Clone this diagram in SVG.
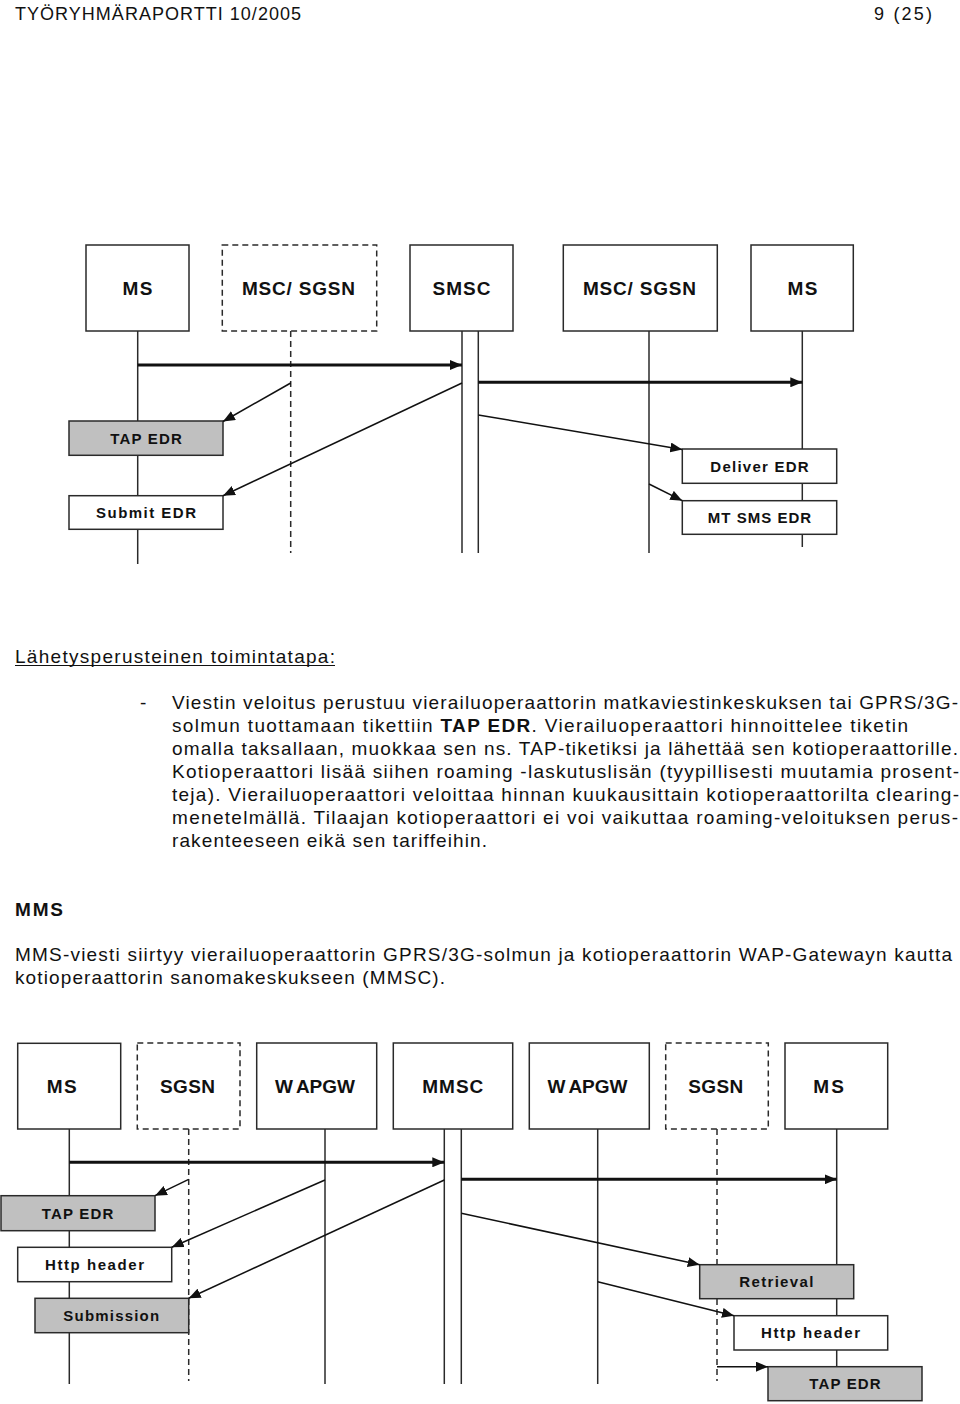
<svg xmlns="http://www.w3.org/2000/svg" width="960" height="1404" viewBox="0 0 960 1404">
<defs>
<style>
.page{font-family:"Liberation Sans",Arial,sans-serif;fill:#111}
.body{font-family:"Liberation Sans",Arial,sans-serif;font-size:19px;fill:#111}
.hd{font-family:"Liberation Sans",Arial,sans-serif;font-size:19px;font-weight:bold;fill:#111;text-anchor:middle}
.lbl{font-family:"Liberation Sans",Arial,sans-serif;font-size:15px;font-weight:bold;fill:#111;text-anchor:middle}
.box{fill:#fff;stroke:#2a2a2a;stroke-width:1.5}
.dbox{fill:#fff;stroke:#2a2a2a;stroke-width:1.5;stroke-dasharray:6 4}
.gbox{fill:#c0c0c0;stroke:#2a2a2a;stroke-width:1.5}
.wbox{fill:#fff;stroke:#2a2a2a;stroke-width:1.5}
.life{stroke:#2a2a2a;stroke-width:1.5;fill:none}
.dlife{stroke:#2a2a2a;stroke-width:1.5;fill:none;stroke-dasharray:6 4}
.thick{stroke:#111;stroke-width:3;fill:none;marker-end:url(#ah)}
.thin{stroke:#111;stroke-width:1.5;fill:none;marker-end:url(#ah)}
</style>
<marker id="ah" markerUnits="userSpaceOnUse" markerWidth="12" markerHeight="10" refX="12" refY="5" orient="auto">
<path d="M0,0 L12,5 L0,10 z" fill="#111"/>
</marker>
</defs>
<rect width="960" height="1404" fill="#fff"/>

<g id="page-header">
<text class="page" x="15" y="20" font-size="18" textLength="286" lengthAdjust="spacing">TYÖRYHMÄRAPORTTI 10/2005</text>
<text class="page" x="874" y="20" font-size="18" textLength="58" lengthAdjust="spacing">9 (25)</text>
</g>

<g id="top-ms1">
<line class="life" x1="137.7" y1="331" x2="137.7" y2="564"/>
<rect class="box" x="86" y="245" width="103" height="86"/>
<text class="hd" x="137.5" y="295" textLength="30" lengthAdjust="spacing">MS</text>
</g>
<g id="top-msc1">
<line class="dlife" x1="290.7" y1="331" x2="290.7" y2="553"/>
<rect class="dbox" x="222.3" y="245" width="154.4" height="86"/>
<text class="hd" x="298.5" y="295" textLength="113" lengthAdjust="spacing">MSC/ SGSN</text>
</g>
<g id="top-smsc">
<line class="life" x1="462" y1="331" x2="462" y2="553"/>
<line class="life" x1="478.3" y1="331" x2="478.3" y2="553"/>
<rect class="box" x="410" y="245" width="103" height="86"/>
<text class="hd" x="461.5" y="295" textLength="58" lengthAdjust="spacing">SMSC</text>
</g>
<g id="top-msc2">
<line class="life" x1="649" y1="331" x2="649" y2="553"/>
<rect class="box" x="563.3" y="245" width="154" height="86"/>
<text class="hd" x="639.5" y="295" textLength="113" lengthAdjust="spacing">MSC/ SGSN</text>
</g>
<g id="top-ms2">
<line class="life" x1="802.3" y1="331" x2="802.3" y2="547"/>
<rect class="box" x="751" y="245" width="102.3" height="86"/>
<text class="hd" x="802.5" y="295" textLength="30" lengthAdjust="spacing">MS</text>
</g>

<g id="top-tap-edr">
<rect class="gbox" x="69" y="421" width="154" height="34.3"/>
<text class="lbl" x="146" y="443.6" textLength="71.7" lengthAdjust="spacing">TAP EDR</text>
</g>
<g id="top-submit-edr">
<rect class="wbox" x="69" y="495.7" width="154" height="33.6"/>
<text class="lbl" x="146" y="517.9" textLength="100" lengthAdjust="spacing">Submit EDR</text>
</g>
<g id="top-deliver-edr">
<rect class="wbox" x="682.3" y="449" width="154.4" height="34.3"/>
<text class="lbl" x="759.5" y="471.6" textLength="98.3" lengthAdjust="spacing">Deliver EDR</text>
</g>
<g id="top-mtsms-edr">
<rect class="wbox" x="682.3" y="500.7" width="154.4" height="33.6"/>
<text class="lbl" x="759.5" y="522.9" textLength="103.3" lengthAdjust="spacing">MT SMS EDR</text>
</g>

<g id="top-connectors">
<path class="thick" d="M137.7,365 L462,365"/>
<path class="thick" d="M478.3,382.3 L802.3,382.3"/>
<path class="thin" d="M290.7,383 L223,421.5"/>
<path class="thin" d="M462,383 L223,495.7"/>
<path class="thin" d="M478.3,415 L682.3,449.5"/>
<path class="thin" d="M649,484 L682.3,500.7"/>
</g>

<g id="text-sms">
<text class="body" x="15" y="663" textLength="320" lengthAdjust="spacing">Lähetysperusteinen toimintatapa:</text>
<line x1="15" y1="665.5" x2="335" y2="665.5" stroke="#111" stroke-width="1.2"/>
<text class="body" x="140" y="709">-</text>
<text class="body" x="172" y="709" textLength="786" lengthAdjust="spacing">Viestin veloitus perustuu vierailuoperaattorin matkaviestinkeskuksen tai GPRS/3G-</text>
<text class="body" x="172" y="732" textLength="736" lengthAdjust="spacing">solmun tuottamaan tikettiin <tspan font-weight="bold">TAP EDR</tspan>. Vierailuoperaattori hinnoittelee tiketin</text>
<text class="body" x="172" y="755" textLength="786" lengthAdjust="spacing">omalla taksallaan, muokkaa sen ns. TAP-tiketiksi ja lähettää sen kotioperaattorille.</text>
<text class="body" x="172" y="778" textLength="787" lengthAdjust="spacing">Kotioperaattori lisää siihen roaming -laskutuslisän (tyypillisesti muutamia prosent-</text>
<text class="body" x="172" y="801" textLength="787" lengthAdjust="spacing">teja). Vierailuoperaattori veloittaa hinnan kuukausittain kotioperaattorilta clearing-</text>
<text class="body" x="172" y="824" textLength="786" lengthAdjust="spacing">menetelmällä. Tilaajan kotioperaattori ei voi vaikuttaa roaming-veloituksen perus-</text>
<text class="body" x="172" y="847" textLength="315" lengthAdjust="spacing">rakenteeseen eikä sen tariffeihin.</text>
</g>
<g id="text-mms">
<text class="body" x="15" y="916" font-weight="bold" textLength="48" lengthAdjust="spacing">MMS</text>
<text class="body" x="15" y="961" textLength="937" lengthAdjust="spacing">MMS-viesti siirtyy vierailuoperaattorin GPRS/3G-solmun ja kotioperaattorin WAP-Gatewayn kautta</text>
<text class="body" x="15" y="984" textLength="430" lengthAdjust="spacing">kotioperaattorin sanomakeskukseen (MMSC).</text>
</g>

<g id="bot-ms1">
<line class="life" x1="69.3" y1="1129" x2="69.3" y2="1384"/>
<rect class="box" x="17.7" y="1043.3" width="103" height="85.7"/>
<text class="hd" x="61.7" y="1092.7" textLength="30" lengthAdjust="spacing">MS</text>
</g>
<g id="bot-sgsn1">
<line class="dlife" x1="188.7" y1="1129" x2="188.7" y2="1381"/>
<rect class="dbox" x="137.3" y="1043" width="102.7" height="86"/>
<text class="hd" x="187.5" y="1092.7" textLength="55" lengthAdjust="spacing">SGSN</text>
</g>
<g id="bot-wapgw1">
<line class="life" x1="325" y1="1129" x2="325" y2="1384"/>
<rect class="box" x="256.7" y="1043" width="120" height="86"/>
<text class="hd" x="315" y="1092.7">W<tspan dx="4">APGW</tspan></text>
</g>
<g id="bot-mmsc">
<line class="life" x1="444.3" y1="1129" x2="444.3" y2="1384"/>
<line class="life" x1="461.3" y1="1129" x2="461.3" y2="1384"/>
<rect class="box" x="393.3" y="1043" width="119.4" height="86"/>
<text class="hd" x="452.8" y="1092.7" textLength="61" lengthAdjust="spacing">MMSC</text>
</g>
<g id="bot-wapgw2">
<line class="life" x1="597.7" y1="1129" x2="597.7" y2="1384"/>
<rect class="box" x="529.3" y="1043" width="120" height="86"/>
<text class="hd" x="587.5" y="1092.7">W<tspan dx="4">APGW</tspan></text>
</g>
<g id="bot-sgsn2">
<line class="dlife" x1="717" y1="1129" x2="717" y2="1381"/>
<rect class="dbox" x="665.7" y="1043" width="102.6" height="86"/>
<text class="hd" x="715.8" y="1092.7" textLength="55" lengthAdjust="spacing">SGSN</text>
</g>
<g id="bot-ms2">
<line class="life" x1="836.7" y1="1129" x2="836.7" y2="1367"/>
<rect class="box" x="785" y="1043" width="102.7" height="86"/>
<text class="hd" x="828.7" y="1092.7" textLength="30.7" lengthAdjust="spacing">MS</text>
</g>

<g id="bot-tap-edr1">
<rect class="gbox" x="1" y="1195.7" width="154" height="35"/>
<text class="lbl" x="77.5" y="1218.7" textLength="71.6" lengthAdjust="spacing">TAP EDR</text>
</g>
<g id="bot-http1">
<rect class="wbox" x="17.7" y="1247.3" width="154" height="34.4"/>
<text class="lbl" x="94.5" y="1270" textLength="99" lengthAdjust="spacing">Http header</text>
</g>
<g id="bot-submission">
<rect class="gbox" x="35" y="1298.3" width="153.7" height="34.4"/>
<text class="lbl" x="111.2" y="1321" textLength="95.7" lengthAdjust="spacing">Submission</text>
</g>
<g id="bot-retrieval">
<rect class="gbox" x="699.7" y="1264.7" width="154" height="34"/>
<text class="lbl" x="776.3" y="1287.2" textLength="74" lengthAdjust="spacing">Retrieval</text>
</g>
<g id="bot-http2">
<rect class="wbox" x="734" y="1315.7" width="153.7" height="34.3"/>
<text class="lbl" x="810.5" y="1338.3" textLength="99" lengthAdjust="spacing">Http header</text>
</g>
<g id="bot-tap-edr2">
<rect class="gbox" x="768" y="1366.7" width="154" height="34"/>
<text class="lbl" x="845" y="1389.2" textLength="71.4" lengthAdjust="spacing">TAP EDR</text>
</g>

<g id="bot-connectors">
<path class="thick" d="M69.3,1162.3 L444.3,1162.3"/>
<path class="thick" d="M461.3,1179.3 L836.7,1179.3"/>
<path class="thin" d="M188.7,1179.3 L155,1195.7"/>
<path class="thin" d="M325,1180 L171.7,1247.3"/>
<path class="thin" d="M444.3,1180 L188.7,1298.3"/>
<path class="thin" d="M461.3,1213.3 L699.7,1264.7"/>
<path class="thin" d="M597.7,1281.7 L734,1315.7"/>
<path class="thin" d="M717,1366.7 L768,1366.7"/>
</g>
</svg>
